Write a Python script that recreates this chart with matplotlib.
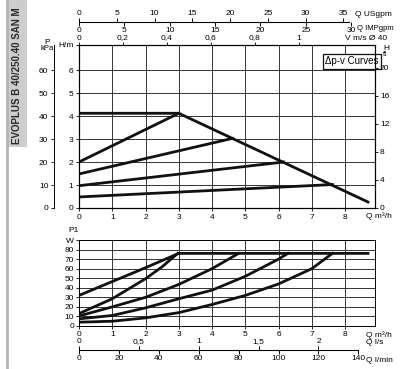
import matplotlib
matplotlib.use("Agg")
import matplotlib.pyplot as plt
from matplotlib.patches import Rectangle
from matplotlib.lines import Line2D

plt.rcParams['font.family'] = ['Liberation Sans Narrow', 'Liberation Sans', 'DejaVu Sans']
plt.rcParams['font.size'] = 6

# ---- data ----
title = "EVOPLUS B 40/250.40 SAN M"

# head curves (Q m3/h, H m)
max_q = [0, 3.0, 8.69]
max_h = [4.12, 4.12, 0.26]
dpv_q = [[0, 3.0], [0, 4.62], [0, 6.15], [0, 7.62]]
dpv_h = [[2.0, 4.12], [1.48, 3.03], [0.97, 2.0], [0.48, 1.02]]

# power curves (Q m3/h, P1 W)
p1_q = [
    [0, 1, 2, 3.0, 8.69],
    [0, 1, 2, 2.5, 2.97],
    [0, 1, 2, 3, 4, 4.8],
    [0, 1, 2, 3, 4, 5, 6, 6.28],
    [0, 1, 2, 3, 4, 5, 6, 7, 7.62],
]
p1_w = [
    [32, 46.5, 61, 76, 76],
    [13, 28.5, 49.5, 62, 76],
    [10.5, 20, 30, 43.5, 60, 76],
    [7.5, 11, 19, 28.5, 37.5, 52, 70, 76],
    [4, 5, 8.5, 14, 22.5, 32, 44, 60, 76],
]

q_ticks = [0, 1, 2, 3, 4, 5, 6, 7, 8]
h_ticks = [0, 1, 2, 3, 4, 5, 6]
kpa_ticks = [0, 10, 20, 30, 40, 50, 60]
ft_ticks = [0, 4, 8, 12, 16, 20]
w_ticks = [0, 10, 20, 30, 40, 50, 60, 70, 80]
usgpm_ticks = [0, 5, 10, 15, 20, 25, 30, 35]
impgpm_ticks = [0, 5, 10, 15, 20, 25, 30]
v_ticks = [0, 0.2, 0.4, 0.6, 0.8, 1.0]
v_labels = ["0", "0,2", "0,4", "0,6", "0,8", "1"]
ls_ticks = [0, 0.5, 1, 1.5, 2]
ls_labels = ["0", "0,5", "1", "1,5", "2"]
lmin_ticks = [0, 20, 40, 60, 80, 100, 120, 140]

# unit conversions (per m3/h)
US = 4.403
IMP = 3.666
V40 = 1 / 6.6
LS = 1 / 3.6
LMIN = 1 / 0.06
FT = 0.3048

W, H = 400, 369
QMAX = 8.9
HMAX = 7.09
WMAX = 90


def rect(x0, y0, x1, y1):
    return [x0 / W, 1 - y1 / H, (x1 - x0) / W, (y1 - y0) / H]


def ftext(x, y, s, **kw):
    fig.text(x / W, 1 - y / H, s, **kw)


def scale_axis(y, xmax, ticks, labels, side, bound=None):
    a = fig.add_axes(rect(79, y - 0.05, 375, y + 0.05))
    a.set_xlim(0, xmax)
    a.patch.set_visible(False)
    a.set_yticks([])
    for s in a.spines.values():
        s.set_visible(False)
    if bound is not None:
        a.spines['bottom'].set_visible(True)
        a.spines['bottom'].set_linewidth(0.8)
        a.spines['bottom'].set_bounds(0, bound)
    a.set_xticks(ticks)
    a.set_xticklabels(labels)
    if side == 'top':
        a.xaxis.tick_top()
    a.tick_params(axis='x', length=3, width=0.7, pad=0.5, labelsize=6)
    return a


fig = plt.figure(figsize=(4.0, 3.69), dpi=100)

# side banner
fig.add_artist(Line2D([7 / W, 7 / W], [0, 1], color='#b4b4b4', lw=2))
fig.add_artist(Rectangle((7 / W, 1 - 147 / H), 20 / W, 147 / H, color='#cdcdcd', lw=0))
ftext(17, 76, title, rotation=90, ha='center', va='center', fontsize=7,
      fontweight='bold', color='#2a2a2a')

# ---- head chart ----
ax = fig.add_axes(rect(79, 45, 375, 208))
ax.set_xlim(0, QMAX)
ax.set_ylim(0, HMAX)
ax.set_xticks(q_ticks)
ax.set_yticks(h_ticks + [HMAX])
ax.set_yticklabels([str(t) for t in h_ticks] + ["H/m"])
ax.grid(True, color='#333333', lw=0.7)
ax.tick_params(length=2.5, width=0.6, pad=1.5, labelsize=6)
for s in ax.spines.values():
    s.set_linewidth(0.7)
ax.plot(max_q, max_h, color='#111111', lw=2)
for q, h in zip(dpv_q, dpv_h):
    ax.plot(q, h, color='#111111', lw=2)
ax.text(0.923, 0.90, "\u0394p-v Curves", transform=ax.transAxes, ha='center',
        va='center', fontsize=7,
        bbox=dict(boxstyle='square,pad=0.25', fc='white', ec='#111111', lw=0.9))

# ft axis on the right
axr = ax.twinx()
axr.set_ylim(0, HMAX / FT)
axr.set_yticks(ft_ticks)
axr.tick_params(length=2.5, width=0.6, pad=1, labelsize=6)
ftext(383, 48, "H", ha='left', va='center', fontsize=6)
ftext(383, 55, "ft", ha='left', va='center', fontsize=5.5)

# velocity scale on top edge
axv = ax.twiny()
axv.set_xlim(0, QMAX * V40)
axv.set_xticks(v_ticks)
axv.set_xticklabels(v_labels)
axv.tick_params(length=2, width=0.6, pad=0.5, labelsize=6)
ftext(345, 39, "V m/s \u00d8 40", ha='left', va='center', fontsize=6)

# kPa axis
axk = fig.add_axes(rect(54, 45, 54.5, 208))
axk.set_ylim(0, HMAX * 10)
axk.set_yticks(kpa_ticks)
axk.set_xticks([])
axk.patch.set_visible(False)
for k in ['top', 'right', 'bottom']:
    axk.spines[k].set_visible(False)
axk.spines['left'].set_linewidth(0.7)
axk.tick_params(length=2.5, width=0.6, pad=1.5, labelsize=6)
ftext(47, 43, "P", ha='center', va='center', fontsize=6)
ftext(47, 49, "kPa", ha='center', va='center', fontsize=5.5)

# flow scales above
scale_axis(22, QMAX * US, usgpm_ticks, [str(t) for t in usgpm_ticks], 'top', bound=35.7)
scale_axis(22, QMAX * IMP, impgpm_ticks, [str(t) for t in impgpm_ticks], 'bottom')
ftext(355, 15, "Q USgpm", ha='left', va='center', fontsize=6)
ftext(357, 29, "Q IMPgpm", ha='left', va='center', fontsize=5.5)
ftext(366, 216, "Q m\u00b3/h", ha='left', va='center', fontsize=6)

# ---- power chart ----
axp = fig.add_axes(rect(79, 240, 375, 326))
axp.set_xlim(0, QMAX)
axp.set_ylim(0, WMAX)
axp.set_xticks(q_ticks)
axp.set_yticks(w_ticks + [WMAX])
axp.set_yticklabels([str(t) for t in w_ticks] + ["W"])
axp.grid(True, color='#333333', lw=0.7)
axp.tick_params(length=2.5, width=0.6, pad=1, labelsize=6)
for s in axp.spines.values():
    s.set_linewidth(0.7)
for q, w in zip(p1_q, p1_w):
    axp.plot(q, w, color='#111111', lw=2)
ftext(68, 231, "P1", ha='left', va='center', fontsize=6)
ftext(366, 335, "Q m\u00b3/h", ha='left', va='center', fontsize=6)

# flow scales below
scale_axis(350, QMAX * LS, ls_ticks, ls_labels, 'top', bound=140 / 60)
scale_axis(350, QMAX * LMIN, lmin_ticks, [str(t) for t in lmin_ticks], 'bottom')
ftext(366, 343, "Q l/s", ha='left', va='center', fontsize=6)
ftext(366, 360, "Q l/min", ha='left', va='center', fontsize=6)

fig.savefig("out.png", dpi=100)
